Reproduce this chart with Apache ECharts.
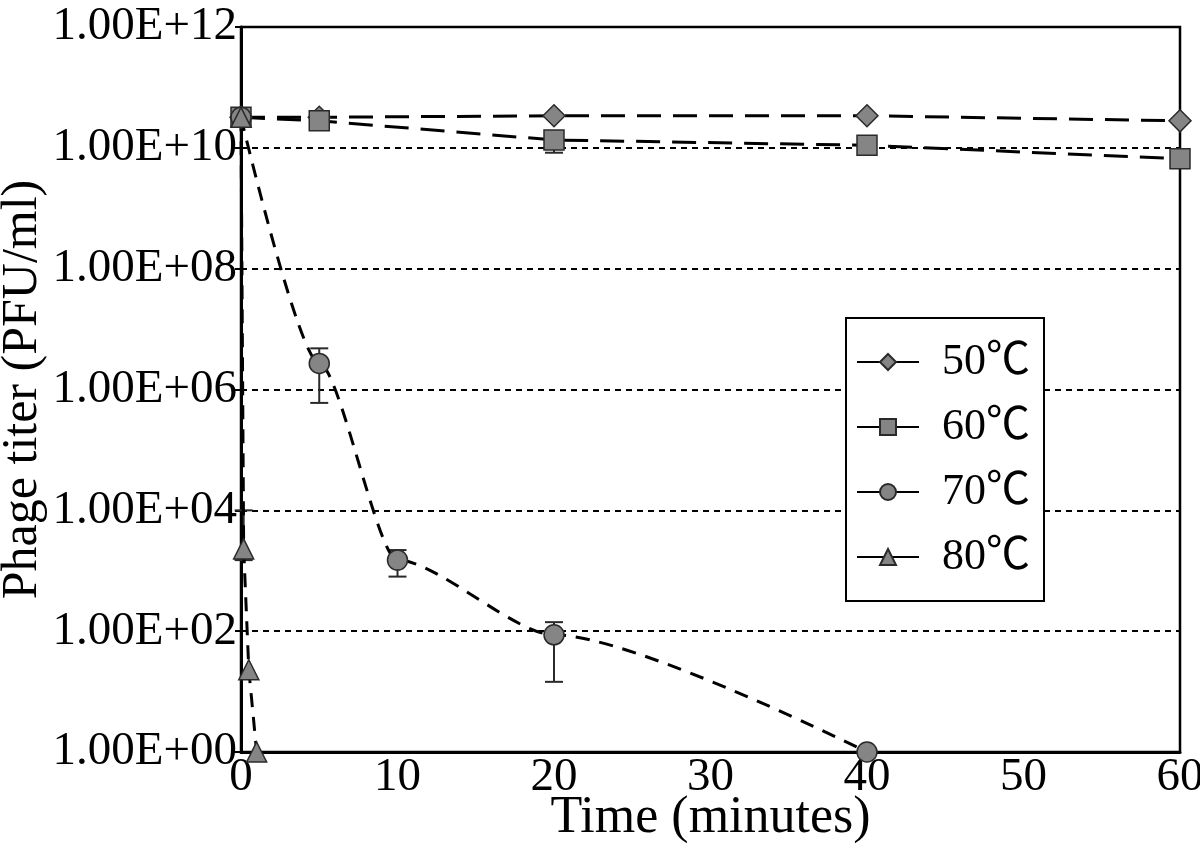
<!DOCTYPE html>
<html><head><meta charset="utf-8">
<script src="https://cdn.jsdelivr.net/npm/echarts@6/dist/echarts.min.js"></script>
<style>html,body{margin:0;background:#fff}#c{width:1200px;height:846px}</style>
</head><body><div id="c"></div>
<script>
const seriesNames = ['50℃', '60℃', '70℃', '80℃'];
const time50 = [0, 5, 20, 40, 60];
const titer50 = [3.2e10, 3.2e10, 3.4e10, 3.4e10, 2.8e10];
const time60 = [0, 5, 20, 40, 60];
const titer60 = [3.2e10, 2.8e10, 1.35e10, 1.1e10, 6.6e9];
const time70 = [0, 5, 10, 20, 40];
const titer70 = [3.2e10, 2.7e6, 1.5e3, 87, 1];
const time80 = [0, 0.17, 0.5, 1];
const titer80 = [3.2e10, 2.3e3, 23, 1];
const errTime = [20, 5, 10, 20, 0.17];
const errLow = [8.3e9, 6.0e5, 8e2, 14.5, 1.5e3];
const errHigh = [1.8e10, 4.8e6, 2.2e3, 141, 1e4];
const yTickLabels = ['1.00E+00', '1.00E+02', '1.00E+04', '1.00E+06', '1.00E+08', '1.00E+10', '1.00E+12'];
const xTicks = [0, 10, 20, 30, 40, 50, 60];

const FONT = '"Liberation Serif", "Times New Roman", "Noto Sans CJK SC", serif';
const zip = (a, b) => a.map((v, i) => [v, b[i]]);
const markerStyle = { color: '#858585', borderColor: '#2a2a2a', borderWidth: 1.5 };

function mk(name, xs, ys, symbol, dash, smooth) {
  return {
    name, type: 'line', data: zip(xs, ys), symbol, symbolSize: symbol === 'diamond' ? 22 : 20,
    smooth: smooth ? 0.25 : false, smoothMonotone: 'x',
    lineStyle: { color: '#000', width: 3, type: dash },
    itemStyle: markerStyle, z: 3
  };
}

const chart = echarts.init(document.getElementById('c'));
chart.setOption({
  animation: false,
  backgroundColor: '#fff',
  grid: { left: 241, right: 20, top: 27, bottom: 94, outerBoundsMode: 'none', containLabel: false,
          show: true, borderColor: '#000', borderWidth: 2.5, backgroundColor: 'transparent' },
  xAxis: {
    type: 'value', min: xTicks[0], max: xTicks[xTicks.length - 1], interval: 10,
    name: 'Time (minutes)', nameLocation: 'middle', nameGap: 40, nameMoveOverlap: false,
    nameTextStyle: { fontFamily: FONT, fontSize: 52, color: '#000' },
    axisLine: { show: true, lineStyle: { color: '#000', width: 3 } },
    axisTick: { show: false },
    axisLabel: { fontFamily: FONT, fontSize: 47, color: '#000', margin: 2 },
    splitLine: { show: false }
  },
  yAxis: {
    type: 'log', logBase: 100, min: 1, max: 1e12, splitNumber: 6,
    name: 'Phage titer (PFU/ml)', nameLocation: 'middle', nameGap: 193, nameMoveOverlap: false,
    nameTextStyle: { fontFamily: FONT, fontSize: 50, color: '#000' },
    axisLine: { show: true, lineStyle: { color: '#000', width: 3 } },
    axisTick: { show: true, length: 6, lineStyle: { color: '#000', width: 2 } },
    axisLabel: {
      fontFamily: FONT, fontSize: 47, color: '#000', margin: 4,
      formatter: v => yTickLabels[Math.round(Math.log10(v) / 2)]
    },
    splitLine: { show: true, lineStyle: { color: '#000', width: 2, type: [6, 5] } }
  },
  legend: {
    orient: 'vertical', left: 846, top: 318, width: 186, height: 270,
    data: seriesNames,
    padding: [22, 14, 22, 10],
    itemGap: 21, itemWidth: 62, itemHeight: 20,
    backgroundColor: '#fff', borderColor: '#000', borderWidth: 2,
    lineStyle: { type: 'solid' },
    textStyle: { fontFamily: FONT, fontSize: 44, color: '#000', padding: [0, 0, 0, 18] }
  },
  series: [
    mk(seriesNames[0], time50, titer50, 'diamond', [24, 12], false),
    mk(seriesNames[1], time60, titer60, 'rect', [24, 12], false),
    mk(seriesNames[2], time70, titer70, 'circle', [14, 10], true),
    mk(seriesNames[3], time80, titer80, 'triangle', [14, 10], false),
    {
      type: 'custom', name: 'err', z: 2, silent: true,
      data: errTime.map((t, i) => [t, errLow[i], errHigh[i]]),
      renderItem: (params, api) => {
        const lo = api.coord([api.value(0), api.value(1)]);
        const hi = api.coord([api.value(0), api.value(2)]);
        const w = 9;
        const st = { stroke: '#2a2a2a', lineWidth: 2 };
        return { type: 'group', children: [
          { type: 'line', shape: { x1: lo[0], y1: lo[1], x2: hi[0], y2: hi[1] }, style: st },
          { type: 'line', shape: { x1: lo[0] - w, y1: lo[1], x2: lo[0] + w, y2: lo[1] }, style: st },
          { type: 'line', shape: { x1: hi[0] - w, y1: hi[1], x2: hi[0] + w, y2: hi[1] }, style: st }
        ]};
      }
    }
  ]
});
</script>
</body></html>
